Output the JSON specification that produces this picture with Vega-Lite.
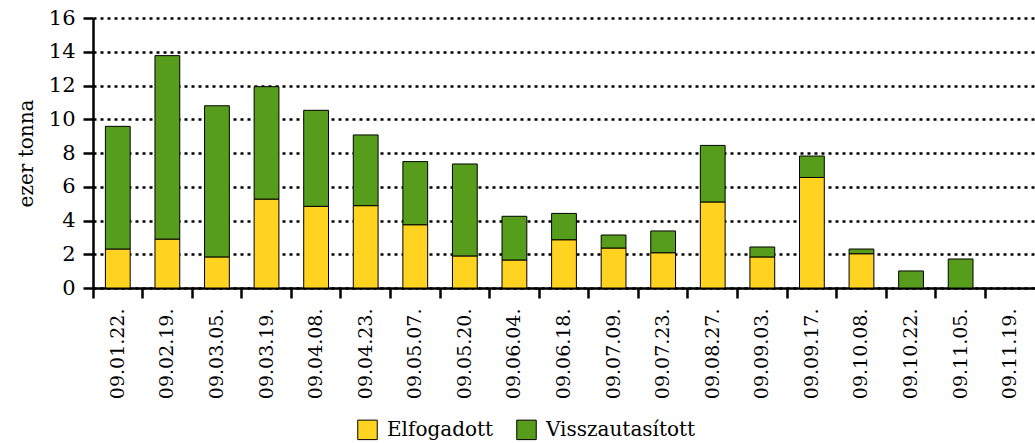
{
  "$schema": "https://vega.github.io/schema/vega-lite/v6.json",
  "width": 942,
  "height": 270,
  "autosize": "none",
  "padding": {"left": 93, "top": 18, "right": 0, "bottom": 155},
  "background": "white",
  "config": {
    "view": {"stroke": null},
    "font": "DejaVu Serif",
    "axis": {"labelFont": "DejaVu Serif", "titleFont": "DejaVu Serif"},
    "legend": {"labelFont": "DejaVu Serif"}
  },
  "data": {
    "values": [
      {"d": "09.01.22.", "s": "Elfogadott", "v": 2.31},
      {"d": "09.01.22.", "s": "Visszautasított", "v": 7.27},
      {"d": "09.02.19.", "s": "Elfogadott", "v": 2.9},
      {"d": "09.02.19.", "s": "Visszautasított", "v": 10.87},
      {"d": "09.03.05.", "s": "Elfogadott", "v": 1.84},
      {"d": "09.03.05.", "s": "Visszautasított", "v": 8.96},
      {"d": "09.03.19.", "s": "Elfogadott", "v": 5.27},
      {"d": "09.03.19.", "s": "Visszautasított", "v": 6.66},
      {"d": "09.04.08.", "s": "Elfogadott", "v": 4.84},
      {"d": "09.04.08.", "s": "Visszautasított", "v": 5.69},
      {"d": "09.04.23.", "s": "Elfogadott", "v": 4.88},
      {"d": "09.04.23.", "s": "Visszautasított", "v": 4.19},
      {"d": "09.05.07.", "s": "Elfogadott", "v": 3.75},
      {"d": "09.05.07.", "s": "Visszautasított", "v": 3.74},
      {"d": "09.05.20.", "s": "Elfogadott", "v": 1.9},
      {"d": "09.05.20.", "s": "Visszautasított", "v": 5.45},
      {"d": "09.06.04.", "s": "Elfogadott", "v": 1.66},
      {"d": "09.06.04.", "s": "Visszautasított", "v": 2.59},
      {"d": "09.06.18.", "s": "Elfogadott", "v": 2.86},
      {"d": "09.06.18.", "s": "Visszautasított", "v": 1.56},
      {"d": "09.07.09.", "s": "Elfogadott", "v": 2.37},
      {"d": "09.07.09.", "s": "Visszautasított", "v": 0.77},
      {"d": "09.07.23.", "s": "Elfogadott", "v": 2.09},
      {"d": "09.07.23.", "s": "Visszautasított", "v": 1.29},
      {"d": "09.08.27.", "s": "Elfogadott", "v": 5.1},
      {"d": "09.08.27.", "s": "Visszautasított", "v": 3.35},
      {"d": "09.09.03.", "s": "Elfogadott", "v": 1.84},
      {"d": "09.09.03.", "s": "Visszautasított", "v": 0.59},
      {"d": "09.09.17.", "s": "Elfogadott", "v": 6.55},
      {"d": "09.09.17.", "s": "Visszautasított", "v": 1.27},
      {"d": "09.10.08.", "s": "Elfogadott", "v": 2.03},
      {"d": "09.10.08.", "s": "Visszautasított", "v": 0.28},
      {"d": "09.10.22.", "s": "Visszautasított", "v": 1.01},
      {"d": "09.11.05.", "s": "Visszautasított", "v": 1.72}
    ]
  },
  "mark": {"type": "bar", "width": {"band": 0.5}, "stroke": "black", "strokeWidth": 1},
  "encoding": {
    "x": {
      "field": "d",
      "type": "ordinal",
      "sort": null,
      "scale": {
        "domain": ["09.01.22.", "09.02.19.", "09.03.05.", "09.03.19.", "09.04.08.", "09.04.23.", "09.05.07.", "09.05.20.", "09.06.04.", "09.06.18.", "09.07.09.", "09.07.23.", "09.08.27.", "09.09.03.", "09.09.17.", "09.10.08.", "09.10.22.", "09.11.05.", "09.11.19."],
        "paddingInner": 0,
        "paddingOuter": 0
      },
      "axis": {
        "title": null,
        "bandPosition": 0,
        "labelAngle": 270,
        "labelAlign": "right",
        "labelBaseline": "middle",
        "labelFontSize": 19,
        "labelColor": "black",
        "labelPadding": 10,
        "domainColor": "black",
        "domainWidth": 2.5,
        "tickColor": "black",
        "tickWidth": 2.5,
        "tickSize": 10,
        "grid": false
      }
    },
    "y": {
      "field": "v",
      "type": "quantitative",
      "stack": "zero",
      "scale": {"domain": [0, 16], "nice": false},
      "axis": {
        "title": "ezer tonna",
        "titleFontSize": 20,
        "titleFontWeight": "normal",
        "titleColor": "black",
        "titlePadding": 12,
        "values": [0, 2, 4, 6, 8, 10, 12, 14, 16],
        "labelFontSize": 21,
        "labelColor": "black",
        "labelPadding": 8,
        "domainColor": "black",
        "domainWidth": 2.5,
        "tickColor": "black",
        "tickWidth": 2.5,
        "tickSize": 10,
        "grid": true,
        "gridColor": "black",
        "gridWidth": 2.5,
        "gridDash": [3, 4]
      }
    },
    "color": {
      "field": "s",
      "type": "nominal",
      "scale": {"domain": ["Elfogadott", "Visszautasított"], "range": ["#FFD320", "#579D1C"]},
      "legend": {
        "title": null,
        "orient": "none",
        "direction": "horizontal",
        "legendX": 264,
        "legendY": 401,
        "symbolType": "square",
        "symbolSize": 380,
        "symbolStrokeColor": "black",
        "symbolStrokeWidth": 1,
        "labelFontSize": 20,
        "labelColor": "black",
        "columnPadding": 20,
        "labelOffset": 9
      }
    },
    "order": {"field": "s", "sort": "ascending"}
  }
}
